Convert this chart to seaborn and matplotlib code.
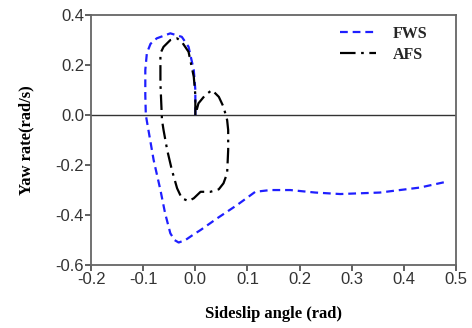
import matplotlib
matplotlib.use("Agg")
import matplotlib.pyplot as plt
import seaborn as sns

# FWS trajectory (sideslip angle, yaw rate)
fws_x = [0.0, 0.0, -0.003, -0.013, -0.026, -0.048, -0.074, -0.086, -0.093, -0.096,
         -0.096, -0.095, -0.090, -0.080, -0.067, -0.058, -0.048, -0.040, -0.032, -0.019,
         -0.005, 0.010, 0.042, 0.080, 0.115, 0.144, 0.182, 0.230, 0.278, 0.354,
         0.431, 0.479]
fws_y = [0.0, 0.10, 0.18, 0.273, 0.313, 0.327, 0.307, 0.285, 0.248, 0.18,
         0.08, 0.0, -0.06, -0.18, -0.30, -0.393, -0.473, -0.500, -0.510, -0.500,
         -0.480, -0.46, -0.413, -0.36, -0.307, -0.30, -0.30, -0.31, -0.316, -0.31,
         -0.29, -0.268]

# AFS trajectory
afs_x = [0.0, 0.0, -0.003, -0.013, -0.026, -0.035, -0.048, -0.061, -0.067, -0.067,
         -0.064, -0.061, -0.054, -0.045, -0.035, -0.026, -0.013, -0.003, 0.010, 0.029,
         0.045, 0.054, 0.061, 0.063, 0.063, 0.061, 0.054, 0.045, 0.032, 0.019,
         0.006, 0.0]
afs_y = [0.0, 0.08, 0.153, 0.253, 0.293, 0.307, 0.30, 0.273, 0.247, 0.127,
         -0.02, -0.06, -0.14, -0.22, -0.293, -0.333, -0.344, -0.333, -0.307, -0.307,
         -0.297, -0.273, -0.233, -0.14, -0.06, -0.02, 0.033, 0.073, 0.10, 0.08,
         0.047, 0.0]

x_ticks = [-0.2, -0.1, 0.0, 0.1, 0.2, 0.3, 0.4, 0.5]
y_ticks = [-0.6, -0.4, -0.2, 0.0, 0.2, 0.4]

sns.set_theme(style="ticks")
plt.rcParams['font.family'] = ['Liberation Sans', 'DejaVu Sans']

fig = plt.figure(figsize=(4.72, 3.28), dpi=100)
ax = fig.add_axes([0.193, 0.192, 0.773, 0.762])

ax.axhline(0, color="#333333", lw=1.0, zorder=1)

sns.lineplot(x=fws_x, y=fws_y, sort=False, estimator=None, ax=ax,
             color="#1f1fff", lw=1.6, label="FWS", dashes=False)
sns.lineplot(x=afs_x, y=afs_y, sort=False, estimator=None, ax=ax,
             color="black", lw=1.6, label="AFS", dashes=False)
lines = ax.get_lines()
lines[1].set_dashes([3.5, 2.2])
lines[2].set_dashes([7, 2.5, 1.2, 2.5])
for ln in lines[1:]:
    ln.set_solid_joinstyle("round")
    ln.set_dash_joinstyle("round")

ax.set_xlim(-0.2, 0.5)
ax.set_ylim(-0.6, 0.4)
ax.set_xticks(x_ticks)
ax.set_yticks(y_ticks)
ax.set_xticklabels([f"{v:.1f}" for v in x_ticks])
ax.set_yticklabels([f"{v:.1f}" for v in y_ticks])
ax.tick_params(axis="both", labelsize=12, colors="#444444", length=4, width=1.2,
               direction="out", pad=1)
ax.tick_params(axis="both", labelcolor="#333333")
for s in ax.spines.values():
    s.set_color("#666666")
    s.set_linewidth(1.3)

ax.set_xlabel("Sideslip angle (rad)", family="Liberation Serif", fontweight="bold",
              fontsize=12, color="black", labelpad=14)
ax.set_ylabel("Yaw rate(rad/s)", family="Liberation Serif", fontweight="bold",
              fontsize=12, color="black", labelpad=15)

leg = ax.legend(loc="upper right", frameon=False, handlelength=2.3,
                prop={"family": "Liberation Serif", "weight": "bold", "size": 11.5},
                bbox_to_anchor=(0.96, 1.015), labelspacing=0.3, handletextpad=1.0)

fig.savefig("out.png", dpi=100, facecolor="white")
